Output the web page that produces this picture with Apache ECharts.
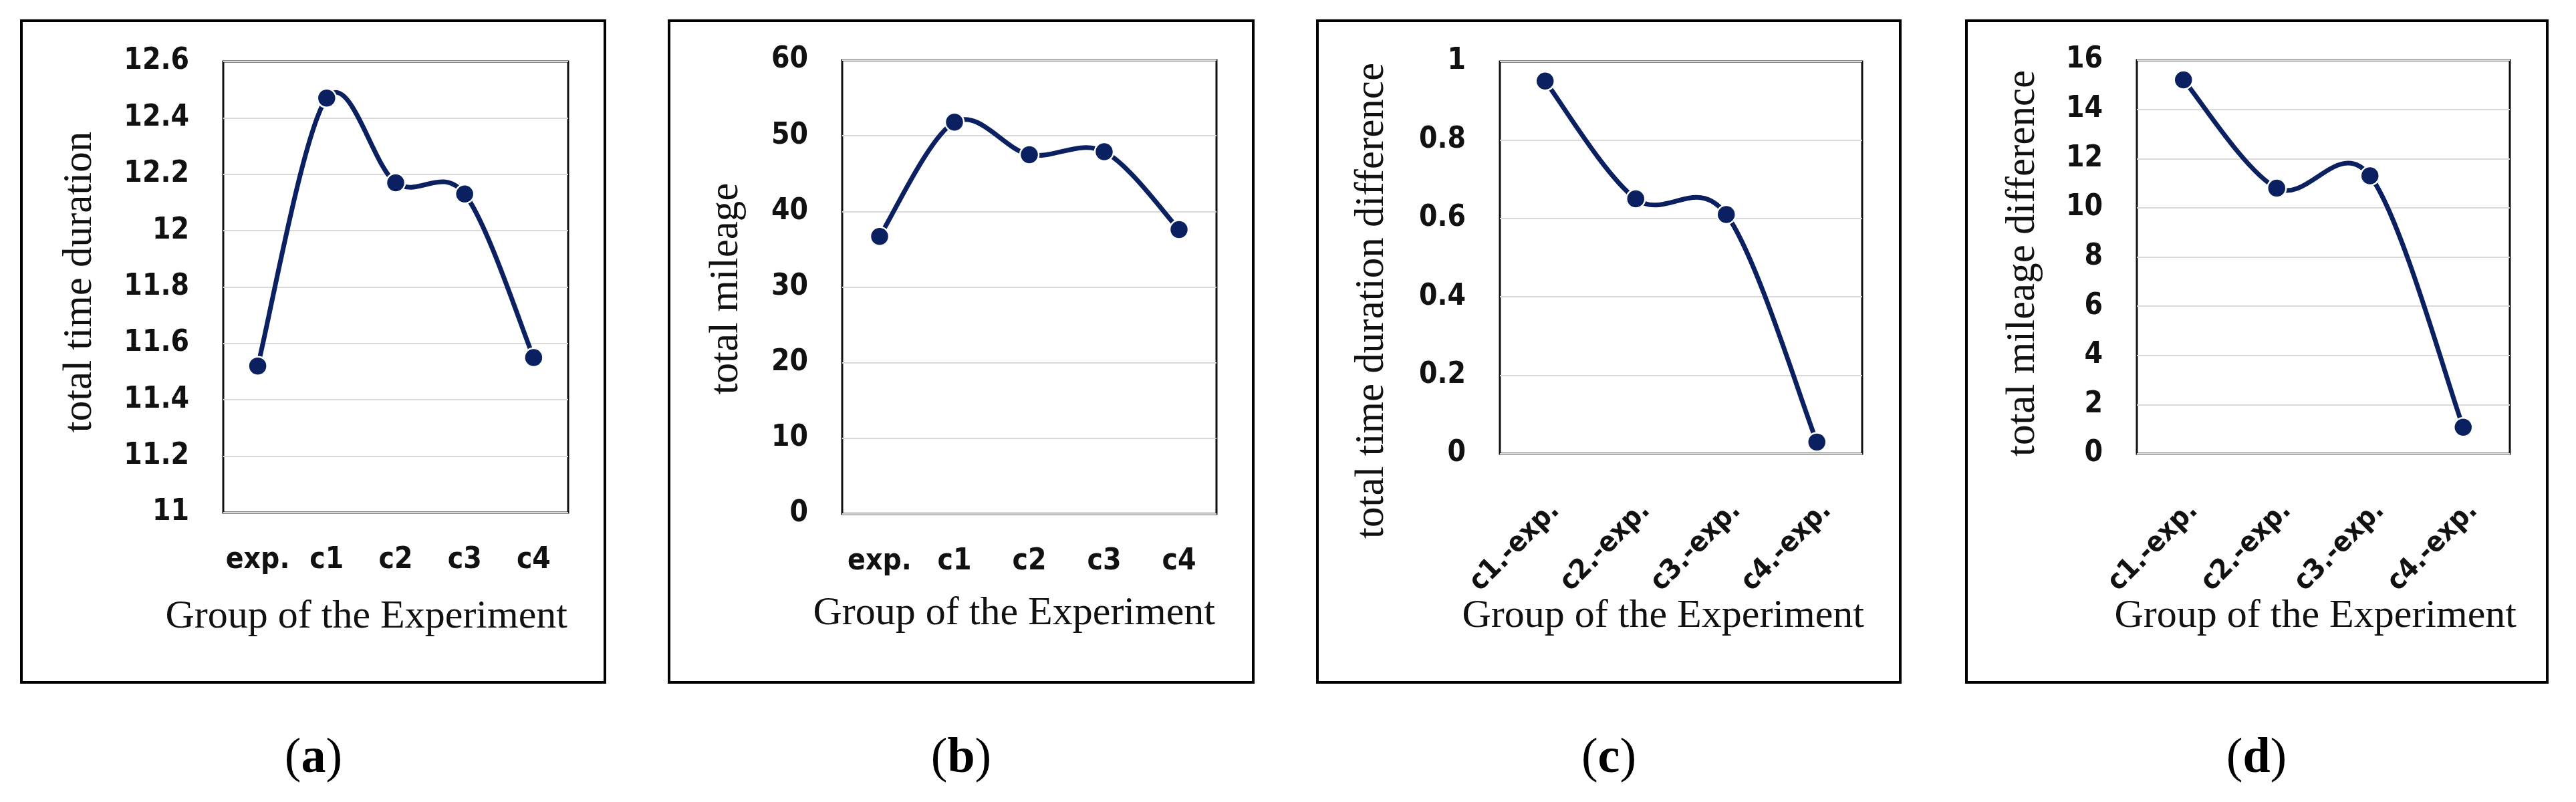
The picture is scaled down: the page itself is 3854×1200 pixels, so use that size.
<!DOCTYPE html>
<html>
<head>
<meta charset="utf-8">
<script src="https://cdn.jsdelivr.net/npm/echarts@6/dist/echarts.min.js"></script>
<style>
html,body{margin:0;padding:0;background:#fff;}
#chart{width:3854px;height:1200px;}
</style>
</head>
<body>
<div id="chart"></div>
<script>
// ---- data ----
const groupsAB = ['exp.', 'c1', 'c2', 'c3', 'c4'];
const groupsCD = ['c1.-exp.', 'c2.-exp.', 'c3.-exp.', 'c4.-exp.'];
const totalTimeDuration = [11.52, 12.47, 12.17, 12.13, 11.55];
const totalMileage = [36.7, 51.8, 47.5, 47.9, 37.6];
const timeDurationDiff = [0.95, 0.65, 0.61, 0.03];
const mileageDiff = [15.2, 10.8, 11.3, 1.08];
const yNames = ['total time duration', 'total mileage', 'total time duration difference', 'total mileage difference'];
const xName = 'Group of the Experiment';
const panelTags = ['a', 'b', 'c', 'd'];
const yRanges = [[11, 12.6, 0.2], [0, 60, 10], [0, 1, 0.2], [0, 16, 2]];

// ---- layout ----
const grids = [
  {left: 334, top: 92, width: 516, height: 675},
  {left: 1260, top: 90, width: 560, height: 679},
  {left: 2244, top: 92, width: 542, height: 587},
  {left: 3197, top: 90, width: 558, height: 589}
];
const boxes = [[32, 31, 873, 990], [1001, 31, 874, 990], [1971, 31, 872, 990], [2942, 31, 869, 990]];
const yNamePos = [[120, 422], [1087, 432], [2053, 450], [3027, 394]];
const xNamePos = [[849, 923], [1818, 918], [2789, 922], [3765, 922]];
const tagPos = [[469, 1136], [1438, 1136], [2407, 1136], [3376, 1136]];

const LINE = '#0a2060';
const tickFont = 'DejaVu Sans Condensed, DejaVu Sans, sans-serif';
const serif = 'Liberation Serif, Times New Roman, serif';

const cats = [groupsAB, groupsAB, groupsCD, groupsCD];
const vals = [totalTimeDuration, totalMileage, timeDurationDiff, mileageDiff];

// Catmull-Rom style smoothed segment (as in the spreadsheet's smoothed line), drawn through the axes' coordinates
function curveRenderer(values) {
  return function (params, api) {
    const i = params.dataIndex;
    const n = values.length;
    if (i >= n - 1) return null;
    const P = k => api.coord([Math.max(0, Math.min(n - 1, k)), values[Math.max(0, Math.min(n - 1, k))]]);
    const p0 = P(i - 1), p1 = P(i), p2 = P(i + 1), p3 = P(i + 2);
    return {
      type: 'bezierCurve',
      shape: {
        x1: p1[0], y1: p1[1], x2: p2[0], y2: p2[1],
        cpx1: p1[0] + (p2[0] - p0[0]) / 6, cpy1: p1[1] + (p2[1] - p0[1]) / 6,
        cpx2: p2[0] - (p3[0] - p1[0]) / 6, cpy2: p2[1] - (p3[1] - p1[1]) / 6
      },
      style: {stroke: LINE, lineWidth: 7, fill: null, lineCap: 'round'}
    };
  };
}

const series = [];
vals.forEach((v, i) => {
  series.push({
    type: 'custom', xAxisIndex: i, yAxisIndex: i, z: 2,
    data: v.map((y, k) => [k, y]), encode: {x: 0, y: 1},
    renderItem: curveRenderer(v), silent: true
  });
  series.push({
    type: 'scatter', xAxisIndex: i, yAxisIndex: i, z: 3,
    data: v.map((y, k) => [k, y]),
    symbol: 'circle', symbolSize: 28,
    itemStyle: {color: LINE, borderColor: '#fff', borderWidth: 2.5, opacity: 1}
  });
});

const option = {
  backgroundColor: '#fff',
  animation: false,
  grid: grids.map(g => Object.assign({show: true, borderColor: '#111', borderWidth: 3, backgroundColor: '#fff', containLabel: false}, g)),
  xAxis: cats.map((c, i) => ({
    type: 'category', gridIndex: i, data: c, boundaryGap: true,
    axisLine: {show: false}, axisTick: {show: false}, splitLine: {show: false},
    axisLabel: i < 2
      ? {fontFamily: tickFont, fontWeight: 'bold', fontSize: 44, color: '#111', margin: 50, interval: 0}
      : {fontFamily: tickFont, fontWeight: 'bold', fontSize: 42, color: '#111', margin: 64, rotate: 45,
         align: 'right', verticalAlign: 'top', interval: 0}
  })),
  yAxis: yRanges.map((r, i) => ({
    type: 'value', gridIndex: i, min: r[0], max: r[1], interval: r[2],
    axisLine: {show: false}, axisTick: {show: false},
    splitLine: {show: true, lineStyle: {color: '#d9d9d9', width: 2}},
    axisLabel: {fontFamily: tickFont, fontWeight: 'bold', fontSize: 44, color: '#111', margin: 51}
  })),
  series: series,
  graphic: []
};

boxes.forEach(b => option.graphic.push({
  type: 'rect', z: -10, silent: true,
  shape: {x: b[0], y: b[1], width: b[2], height: b[3]},
  style: {fill: 'none', stroke: '#000', lineWidth: 4}
}));
yNames.forEach((n, i) => option.graphic.push({
  type: 'text', x: yNamePos[i][0], y: yNamePos[i][1], rotation: Math.PI / 2,
  style: {text: n, fontFamily: serif, fontSize: 61, fill: '#111', align: 'center', verticalAlign: 'middle'}
}));
xNamePos.forEach(p => option.graphic.push({
  type: 'text', x: p[0], y: p[1],
  style: {text: xName, fontFamily: serif, fontSize: 60, fill: '#111', align: 'right', verticalAlign: 'middle'}
}));
panelTags.forEach((t, i) => option.graphic.push({
  type: 'text', x: tagPos[i][0], y: tagPos[i][1],
  style: {
    text: '(' + '{b|' + t + '}' + ')', fontFamily: serif, fontSize: 74, fill: '#000',
    align: 'center', verticalAlign: 'middle',
    rich: {b: {fontFamily: serif, fontSize: 74, fontWeight: 'bold', fill: '#000'}}
  }
}));

const chart = echarts.init(document.getElementById('chart'), null, {renderer: 'canvas'});
chart.setOption(option);
</script>
</body>
</html>
